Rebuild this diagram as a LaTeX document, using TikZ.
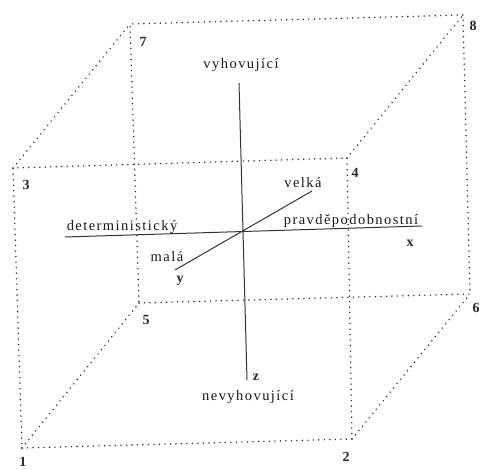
\documentclass[tikz,border=0pt]{standalone}
\usepackage{fontspec}
\setmainfont{Liberation Serif}
\newfontfamily\polefont[LetterSpace=10]{Liberation Serif}
\usetikzlibrary{positioning}

\begin{document}
\begin{tikzpicture}[x=1pt, y=-1pt,
  cubeline/.style={line width=1.6pt, dash pattern=on 0pt off 5.5pt, line cap=round, black!85},
  axisline/.style={line width=1pt, black!80},
  corner/.style={font=\fontsize{14}{14}\selectfont\bfseries, text=black!85, inner sep=0pt},
  pole/.style={font=\polefont\fontsize{14.5}{14}\selectfont, text=black!90, inner sep=0pt}]
  \useasboundingbox (0,0) rectangle (482,470);

  % cube corners
  \coordinate (c1) at (22,448);
  \coordinate (c2) at (352,439);
  \coordinate (c3) at (13,168);
  \coordinate (c4) at (347,158);
  \coordinate (c5) at (139,303);
  \coordinate (c6) at (470,294);
  \coordinate (c7) at (130,24);
  \coordinate (c8) at (463,15);

  \draw[cubeline] (c1) -- (c2) -- (c4) -- (c3) -- cycle;
  \draw[cubeline] (c5) -- (c6) -- (c8) -- (c7) -- cycle;
  \foreach \a/\b in {1/5,2/6,3/7,4/8}
    \draw[cubeline] (c\a) -- (c\b);

  \node[corner] (n1) at (23,462) {1};
  \node[corner] (n2) at (346,457) {2};
  \node[corner] (n3) at (26,185) {3};
  \node[corner] (n4) at (355,173) {4};
  \node[corner] (n5) at (146,320) {5};
  \node[corner] (n6) at (476,308) {6};
  \node[corner] (n7) at (143,42) {7};
  \node[corner] (n8) at (473,26) {8};

  % axes
  \coordinate (xl) at (65,237);
  \coordinate (xr) at (422,226);
  \coordinate (zt) at (239,83);
  \coordinate (zb) at (247,380);
  \coordinate (yl) at (175,270);
  \coordinate (yr) at (312,191);

  \draw[axisline] (xl) -- (xr);
  \draw[axisline] (zt) -- (zb);
  \draw[axisline] (yl) -- (yr);

  \node[pole] (top) at (241,65) {vyhovující};
  \node[pole] (bottom) at (248,397) {nevyhovující};
  \node[pole] (left) at (122,227) {deterministický};
  \node[pole] (right) at (351,221) {pravděpodobnostní};
  \node[pole] (small) at (167,257) {malá};
  \node[pole] (big) at (303,183) {velká};

  \node[corner] (lx) at (410,243) {x};
  \node[corner] (ly) at (180,281) {y};
  \node[corner] (lz) at (256,377) {z};
\end{tikzpicture}
\end{document}
